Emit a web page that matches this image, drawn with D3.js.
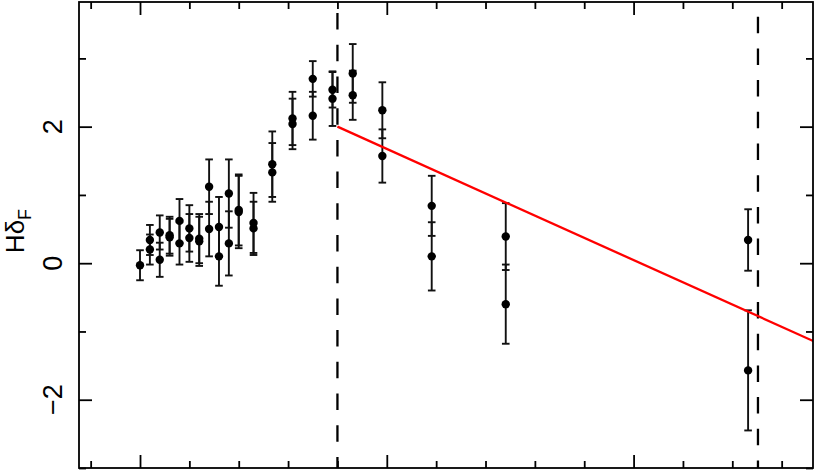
<!DOCTYPE html>
<html>
<head>
<meta charset="utf-8">
<script src="https://cdn.jsdelivr.net/npm/d3@7"></script>
<style>
  html, body { margin: 0; padding: 0; background: #fff; }
  svg { display: block; }
  text { font-family: "Liberation Sans", Arial, Helvetica, sans-serif; fill: #000; }
</style>
</head>
<body>
<svg id="chart" width="817" height="472"></svg>
<script>
// ---- data ----
const ages = [0, 0.2, 0.2, 0.4, 0.4, 0.6, 0.6, 0.8, 0.8, 1.0, 1.0, 1.2, 1.2, 1.4, 1.4,
              1.6, 1.6, 1.8, 1.8, 2.0, 2.0, 2.3, 2.3, 2.68, 2.68, 3.09, 3.09, 3.5, 3.5,
              3.9, 3.9, 4.31, 4.31, 4.91, 4.91, 5.91, 5.91, 7.41, 7.41, 12.32, 12.32];
const hdF = [-0.03, 0.34, 0.20, 0.45, 0.05, 0.41, 0.38, 0.62, 0.29, 0.51, 0.37, 0.36, 0.32, 1.12, 0.50,
             0.53, 0.10, 1.02, 0.29, 0.78, 0.75, 0.59, 0.51, 1.45, 1.33, 2.12, 2.04, 2.70, 2.16,
             2.54, 2.41, 2.78, 2.46, 2.24, 1.57, 0.84, 0.10, 0.39, -0.60, 0.34, -1.57];
const hdFErr = [0.22, 0.22, 0.22, 0.25, 0.25, 0.27, 0.27, 0.32, 0.31, 0.34, 0.35, 0.36, 0.36, 0.40, 0.40,
                0.44, 0.43, 0.50, 0.47, 0.52, 0.53, 0.44, 0.39, 0.48, 0.43, 0.39, 0.37, 0.26, 0.35,
                0.26, 0.40, 0.43, 0.36, 0.41, 0.39, 0.44, 0.50, 0.49, 0.58, 0.45, 0.88];
const fitX = [4.0, 13.64];
const fitY = [2.0, -1.14];
const vLines = [4.0, 12.52];
const yMajorTicks = [-2, 0, 2];
const yMinorTicks = [-3, -1, 1, 3];
const xMajorTicks = [0, 5, 10];
const xMinorTicks = [-1, 1, 2, 3, 4, 6, 7, 8, 9, 11, 12, 13];
const yLabel = "Hδ";
const yLabelSub = "F";

// ---- layout ----
const L = 79, R = 813, T = 2, B = 468;
const svg = d3.select("#chart");
const x = d3.scaleLinear().domain([-1.236, 13.635]).range([L, R]);
const y = d3.scaleLinear().domain([-3.0, 3.826]).range([B, T]);

const points = ages.map((a, i) => ({ x: a, y: hdF[i], e: hdFErr[i] }));

svg.append("defs").append("clipPath").attr("id", "clip")
  .append("rect").attr("x", L).attr("y", T).attr("width", R - L).attr("height", B - T);

const plot = svg.append("g").attr("clip-path", "url(#clip)");

// dashed vertical lines
const dashOff = [20.6, 17];
plot.selectAll("line.vl").data(vLines).enter().append("line")
  .attr("class", "vl")
  .attr("x1", d => x(d)).attr("x2", d => x(d))
  .attr("y1", T).attr("y2", B)
  .attr("stroke", "#000").attr("stroke-width", 2.3)
  .attr("stroke-dasharray", "16.5,15.2")
  .attr("stroke-dashoffset", (d, i) => dashOff[i]);

// error bars
const cap = 3.8;
const eb = plot.append("g").attr("stroke", "#111").attr("stroke-width", 1.9).attr("fill", "none");
eb.selectAll("line.v").data(points).enter().append("line")
  .attr("x1", d => x(d.x)).attr("x2", d => x(d.x))
  .attr("y1", d => y(d.y - d.e)).attr("y2", d => y(d.y + d.e));
eb.selectAll("line.t").data(points).enter().append("line")
  .attr("x1", d => x(d.x) - cap).attr("x2", d => x(d.x) + cap)
  .attr("y1", d => y(d.y + d.e)).attr("y2", d => y(d.y + d.e));
eb.selectAll("line.b").data(points).enter().append("line")
  .attr("x1", d => x(d.x) - cap).attr("x2", d => x(d.x) + cap)
  .attr("y1", d => y(d.y - d.e)).attr("y2", d => y(d.y - d.e));

// fit line
plot.append("line")
  .attr("x1", x(fitX[0])).attr("y1", y(fitY[0]))
  .attr("x2", x(fitX[1])).attr("y2", y(fitY[1]))
  .attr("stroke", "#ff0000").attr("stroke-width", 2.3);

// points
plot.selectAll("circle").data(points).enter().append("circle")
  .attr("cx", d => x(d.x)).attr("cy", d => y(d.y)).attr("r", 4.2)
  .attr("fill", "#000");

// axes (ticks inward)
function axisTicks(axisGen, ticks, size) { return axisGen.tickValues(ticks).tickSize(size).tickFormat(""); }
const tickStyle = g => { g.select(".domain").remove(); g.selectAll(".tick line").attr("stroke", "#000").attr("stroke-width", 1.8); };

svg.append("g").attr("transform", `translate(${L},0)`).call(axisTicks(d3.axisRight(y), yMajorTicks, 13)).call(tickStyle);
svg.append("g").attr("transform", `translate(${L},0)`).call(axisTicks(d3.axisRight(y), yMinorTicks, 7)).call(tickStyle);
svg.append("g").attr("transform", `translate(${R},0)`).call(axisTicks(d3.axisLeft(y), yMajorTicks, 13)).call(tickStyle);
svg.append("g").attr("transform", `translate(${R},0)`).call(axisTicks(d3.axisLeft(y), yMinorTicks, 7)).call(tickStyle);
svg.append("g").attr("transform", `translate(0,${T})`).call(axisTicks(d3.axisBottom(x), xMajorTicks, 13)).call(tickStyle);
svg.append("g").attr("transform", `translate(0,${T})`).call(axisTicks(d3.axisBottom(x), xMinorTicks, 7)).call(tickStyle);
svg.append("g").attr("transform", `translate(0,${B})`).call(axisTicks(d3.axisTop(x), xMajorTicks, 13)).call(tickStyle);
svg.append("g").attr("transform", `translate(0,${B})`).call(axisTicks(d3.axisTop(x), xMinorTicks, 7)).call(tickStyle);

// frame
svg.append("rect").attr("x", L).attr("y", T).attr("width", R - L).attr("height", B - T)
  .attr("fill", "none").attr("stroke", "#000").attr("stroke-width", 1.8);

// y tick labels (rotated)
svg.selectAll("text.yl").data(yMajorTicks).enter().append("text")
  .attr("class", "yl")
  .attr("transform", d => `translate(62,${y(d)}) rotate(-90)`)
  .attr("text-anchor", "middle")
  .attr("font-size", 27)
  .text(d => d < 0 ? "\u2212" + Math.abs(d) : d);

// y axis title
const yt = svg.append("text")
  .attr("transform", `translate(24,${(T + B) / 2 - 4}) rotate(-90)`)
  .attr("text-anchor", "middle")
  .attr("font-size", 26);
yt.append("tspan").text(yLabel);
yt.append("tspan").attr("font-size", 18).attr("dy", 7).text(yLabelSub);
</script>
</body>
</html>
